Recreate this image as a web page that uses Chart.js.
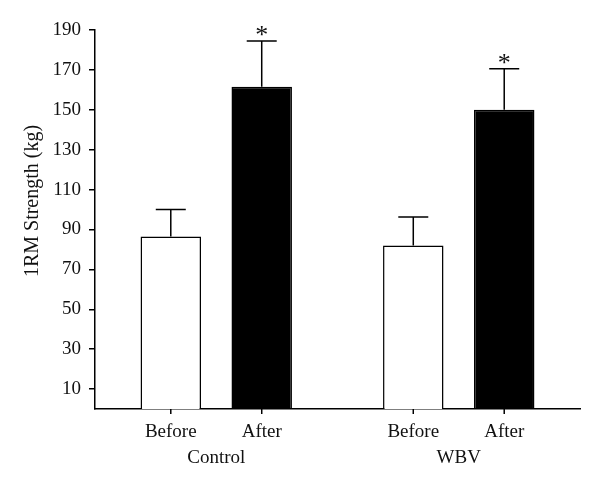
<!DOCTYPE html>
<html>
<head>
<meta charset="utf-8">
<script src="https://cdn.jsdelivr.net/npm/chart.js@4.4.0/dist/chart.umd.min.js"></script>
<style>
	body { margin: 0; background: #fff; }
	#wrap { width: 600px; height: 488px; }
</style>
</head>
<body>
<div id="wrap"><canvas id="myChart" width="600" height="488"></canvas></div>
<script>
let groups = ["Control", "WBV"];
let phaseLabels = ["Before", "After"];
let beforeVals = [86.5, 82];
let afterVals = [161.5, 150];
let beforeErr = [13.5, 14.2];
let afterErr = [23, 20.6];
let afterSig = ["*", "*"];
let yTicks = [10, 30, 50, 70, 90, 110, 130, 150, 170, 190];
let yTitle = "1RM Strength (kg)";

let serif = "'Liberation Serif', 'DejaVu Serif', serif";
let errors = [beforeErr, afterErr];
let marks = [["", ""], afterSig];

// error bars, asterisks, sub labels and tick marks
let extras = {
	id: "extras",
	afterDatasetsDraw(chart) {
		let ctx = chart.ctx;
		let yScale = chart.scales.y;
		let bottom = chart.chartArea.bottom;
		ctx.save();
		ctx.strokeStyle = "#000";
		ctx.fillStyle = "#111";
		ctx.lineWidth = 1.5;
		chart.data.datasets.forEach((ds, d) => {
			let meta = chart.getDatasetMeta(d);
			meta.data.forEach((bar, i) => {
				let top = yScale.getPixelForValue(ds.data[i] + errors[d][i]);
				ctx.beginPath();
				ctx.moveTo(bar.x, bar.y);
				ctx.lineTo(bar.x, top);
				ctx.moveTo(bar.x - 15, top);
				ctx.lineTo(bar.x + 15, top);
				ctx.stroke();

				if (marks[d][i]) {
					ctx.font = "26px " + serif;
					ctx.textAlign = "center";
					ctx.textBaseline = "middle";
					ctx.fillText(marks[d][i], bar.x, top - 5);
				}

				// small tick under each bar
				ctx.beginPath();
				ctx.moveTo(bar.x, bottom);
				ctx.lineTo(bar.x, bottom + 5);
				ctx.stroke();

				ctx.font = "19px " + serif;
				ctx.textAlign = "center";
				ctx.textBaseline = "middle";
				ctx.fillText(phaseLabels[d], bar.x, bottom + 23);
			});
		});

		// y axis title
		ctx.translate(33, 201);
		ctx.rotate(-Math.PI / 2);
		ctx.font = "20px " + serif;
		ctx.textAlign = "center";
		ctx.textBaseline = "middle";
		ctx.fillText(yTitle, 0, 0);
		ctx.restore();
	},
};

let ctx = document.getElementById("myChart").getContext("2d");
let chart = new Chart(ctx, {
	type: "bar",
	data: {
		labels: groups,
		datasets: [
			{
				label: phaseLabels[0],
				data: beforeVals,
				backgroundColor: "#fff",
				borderColor: "#000",
				borderWidth: 1.5,
			},
			{
				label: phaseLabels[1],
				data: afterVals,
				backgroundColor: "#000",
				borderColor: "#000",
				borderWidth: 1.5,
			},
		],
	},
	options: {
		responsive: false,
		devicePixelRatio: 1,
		animation: false,
		categoryPercentage: 0.75,
		barPercentage: 0.665,
		layout: { padding: { top: 30, right: 20, left: 0, bottom: 0 } },
		plugins: {
			legend: { display: false },
			tooltip: { enabled: false },
		},
		scales: {
			x: {
				grid: { display: false },
				border: { color: "#000", width: 1.5 },
				ticks: {
					padding: 30,
					color: "#111",
					font: { family: serif, size: 19 },
				},
				afterFit(scale) {
					scale.height = 79;
				},
			},
			y: {
				min: 0,
				max: 190,
				grid: { drawOnChartArea: false, drawTicks: true, tickLength: 6, color: "#000", lineWidth: 1.5 },
				border: { color: "#000", width: 1.5 },
				ticks: {
					padding: 8,
					color: "#111",
					font: { family: serif, size: 19 },
				},
				afterBuildTicks(axis) {
					axis.ticks = yTicks.map((v) => ({ value: v }));
				},
				afterFit(scale) {
					scale.width = 95;
				},
			},
		},
	},
	plugins: [extras],
});
</script>
</body>
</html>
